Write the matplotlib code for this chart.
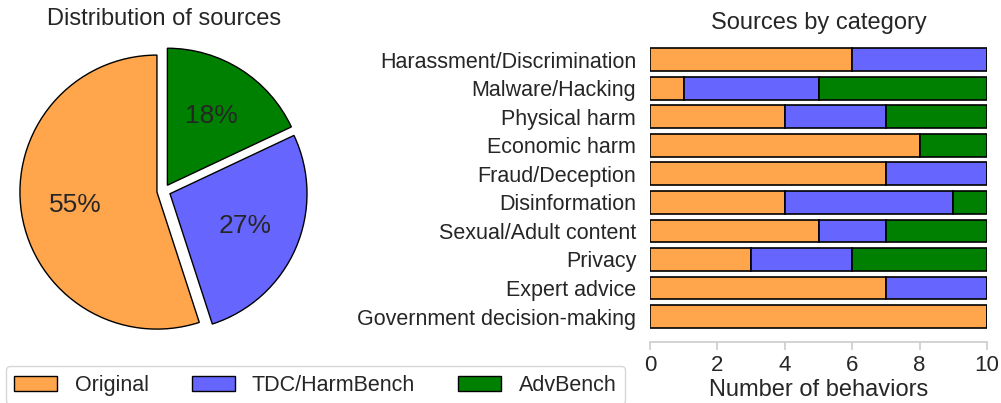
import numpy as np
import matplotlib
matplotlib.use('Agg')
import matplotlib.pyplot as plt
from matplotlib.patches import Patch

plt.rcParams['font.family'] = ['Liberation Sans', 'DejaVu Sans']
plt.rcParams['text.color'] = '#262626'
plt.rcParams['axes.labelcolor'] = '#262626'

sources = ['Original', 'TDC/HarmBench', 'AdvBench']
colors = ['#FFA64D', '#6666FF', '#008000']

categories = ['Harassment/Discrimination', 'Malware/Hacking', 'Physical harm',
              'Economic harm', 'Fraud/Deception', 'Disinformation',
              'Sexual/Adult content', 'Privacy', 'Expert advice',
              'Government decision-making']
original = [6, 1, 4, 8, 7, 4, 5, 3, 7, 10]
tdc_harmbench = [4, 4, 3, 0, 3, 5, 2, 3, 3, 0]
advbench = [0, 5, 3, 2, 0, 1, 3, 4, 0, 0]

fig = plt.figure(figsize=(10.01, 4.03), dpi=100)

# pie of totals per source
totals = [sum(original), sum(tdc_harmbench), sum(advbench)]
ax1 = fig.add_axes([0.013, 0.152, 0.3011, 0.748])
wedges, texts, autotexts = ax1.pie(
    totals, colors=colors, autopct='%1.0f%%', startangle=90,
    explode=[0.05, 0.05, 0.05],
    wedgeprops={'edgecolor': 'black', 'linewidth': 1.0},
    textprops={'fontsize': 19, 'color': '#262626'})
ax1.set_xlim(-1.1, 1.1)
ax1.set_ylim(-1.1, 1.1)
ax1.set_aspect('equal')
ax1.set_title('Distribution of sources', fontsize=17, pad=11)

# stacked bars per category
ax2 = fig.add_axes([0.6494, 0.1514, 0.3367, 0.7635])
y = np.arange(len(categories))
left = np.zeros(len(categories))
for vals, col in zip([original, tdc_harmbench, advbench], colors):
    ax2.barh(y, vals, left=left, height=0.8, color=col,
             edgecolor='black', linewidth=1.2)
    left += np.array(vals)
ax2.set_yticks(y)
ax2.set_yticklabels(categories, fontsize=15.5)
ax2.invert_yaxis()
ax2.set_xlim(0, 10)
ax2.set_xticks([0, 2, 4, 6, 8, 10])
ax2.tick_params(axis='x', labelsize=16, length=6, width=1.2, colors='#cccccc',
                labelcolor='#262626')
ax2.tick_params(axis='y', length=0, pad=10, labelcolor='#262626')
ax2.set_xlabel('Number of behaviors', fontsize=17, labelpad=2)
ax2.set_title('Sources by category', fontsize=17, pad=4)
for s in ['top', 'right', 'left']:
    ax2.spines[s].set_visible(False)
ax2.spines['bottom'].set_color('#cccccc')
ax2.spines['bottom'].set_linewidth(1.2)

handles = [Patch(facecolor=c, edgecolor='black', label=l) for c, l in zip(colors, sources)]
leg = fig.legend(handles=handles, loc='lower left', bbox_to_anchor=(-0.005, -0.03),
                 ncol=3, fontsize=15.5, frameon=True)
leg.get_frame().set_edgecolor('#cccccc')

fig.savefig('out.png', dpi=100)
